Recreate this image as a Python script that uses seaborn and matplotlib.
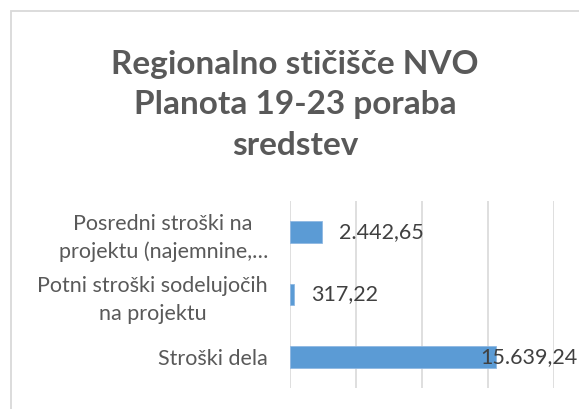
import matplotlib
matplotlib.use("Agg")
import matplotlib.pyplot as plt
import seaborn as sns
import pandas as pd
from matplotlib.patches import Rectangle

# Data
categories = ["Posredni stroški na\nprojektu (najemnine,…",
              "Potni stroški sodelujočih\nna projektu",
              "Stroški dela"]
values = [2442.65, 317.22, 15639.24]
value_labels = ["2.442,65", "317,22", "15.639,24"]
title = "Regionalno stičišče NVO\nPlanota 19-23 poraba\nsredstev"

df = pd.DataFrame({"kategorija": categories, "znesek": values})

sns.set_style("white")
plt.rcParams['font.family'] = ['Lato', 'DejaVu Sans']

text_col = "#595959"
bar_col = "#5B9BD5"
grid_col = "#D9D9D9"

fig = plt.figure(figsize=(5.79, 4.09), dpi=100)
ax = fig.add_axes([290/579, 21/409, 264/579, 187/409])

sns.barplot(data=df, x="znesek", y="kategorija", orient="h", color=bar_col,
            saturation=1, width=0.35, edgecolor="#8FB8E3", linewidth=0.6, ax=ax)

ax.set_xlim(0, 20000)
ax.set_xticks([0, 5000, 10000, 15000, 20000])
ax.set_xticklabels([])
ax.grid(axis="x", color=grid_col, linewidth=1.2)
ax.set_axisbelow(True)
ax.tick_params(axis="both", length=0)
for s in ax.spines.values():
    s.set_visible(False)
ax.set_xlabel("")
ax.set_ylabel("")

for lbl in ax.get_yticklabels():
    lbl.set_multialignment("center")
    lbl.set_linespacing(1.45)
    lbl.set_color(text_col)
    lbl.set_fontsize(15.5)
ax.tick_params(axis="y", pad=16)

# data labels (last one pulled back inside, like Excel)
offsets = [12, 12, -11.5]
for i, (v, t) in enumerate(zip(values, value_labels)):
    ax.annotate(t, xy=(v, i), xytext=(offsets[i], 0), textcoords="offset points",
                ha="left", va="center", fontsize=15.5, color="#404040",
                annotation_clip=False)

fig.text(295/579, 1 - 50/409, title, ha="center", va="top",
         fontsize=24, fontweight="bold", color=text_col, linespacing=1.47)

# chart border
fig.patches.append(Rectangle((11/579, -0.2), 1.2, 1.2 - 11/409,
                             transform=fig.transFigure, fill=False,
                             edgecolor=grid_col, linewidth=1.3))

fig.savefig("out.png", dpi=100)
